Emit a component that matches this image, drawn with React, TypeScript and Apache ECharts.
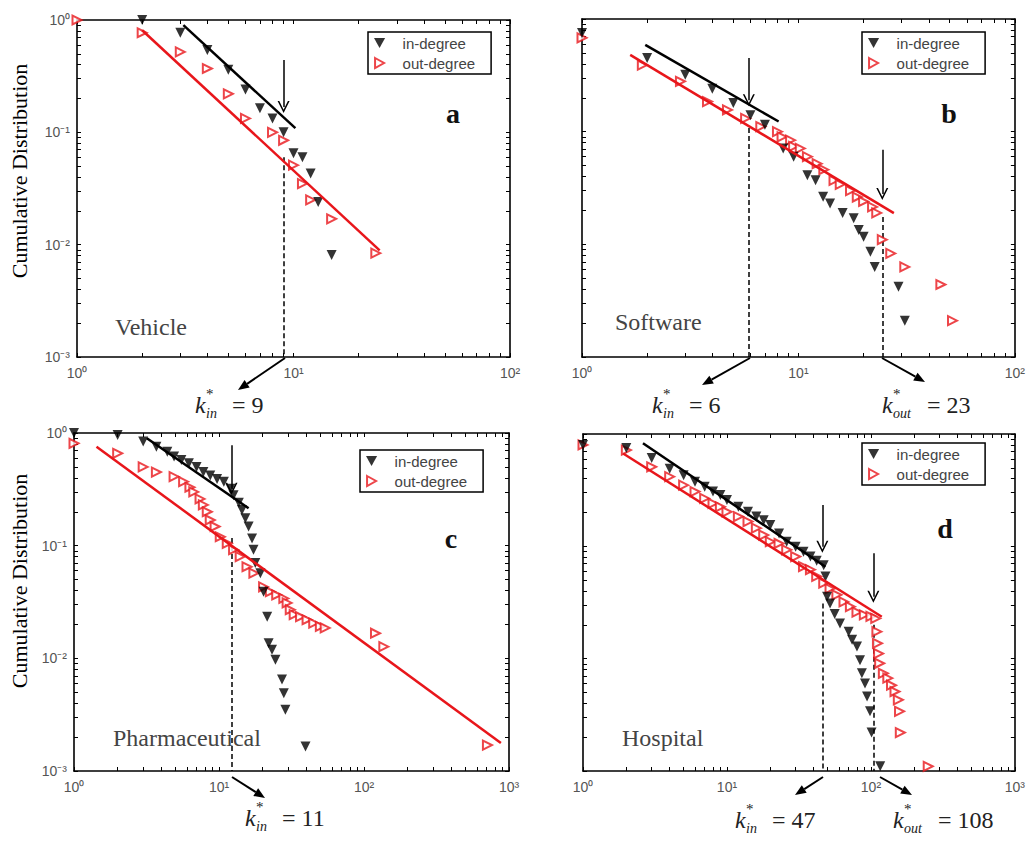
import React, { useEffect, useRef } from 'react';
import * as echarts from 'echarts';

// ---------- data (degree k, cumulative distribution P) ----------
// Panel a: Vehicle
const aInK = [2, 3, 4, 5, 6, 7, 8, 9, 10, 11, 12, 13, 15];
const aInP = [1.0, 0.77, 0.54, 0.36, 0.24, 0.164, 0.133, 0.1, 0.065, 0.06, 0.043, 0.024, 0.0081];
const aOutK = [1, 2, 3, 4, 5, 6, 8, 9, 10, 11, 12, 15, 24];
const aOutP = [1.0, 0.77, 0.52, 0.37, 0.22, 0.133, 0.1, 0.085, 0.051, 0.035, 0.025, 0.017, 0.0084];
const aFitInK = [3.1, 10.2];
const aFitInP = [0.9, 0.109];
const aFitOutK = [2.0, 25];
const aFitOutP = [0.81, 0.0089];
const aStarK = [9];
const aArrowTopP = [0.44];
const aArrowTipP = [0.168];
const aDashTopP = [0.06];

// Panel b: Software
const bInK = [1, 2, 3, 4, 5, 6, 7, 8.5, 9.5, 11, 12, 13, 14, 16, 18, 19, 20, 21.5, 22.5, 29, 31];
const bInP = [0.75, 0.45, 0.32, 0.24, 0.18, 0.14, 0.115, 0.071, 0.06, 0.041, 0.037, 0.0265, 0.023, 0.019, 0.017, 0.0134, 0.0117, 0.0086, 0.0063, 0.0042, 0.0021];
const bOutK = [1, 1.9, 2.85, 3.8, 4.7, 5.7, 6.7, 8, 8.4, 9.2, 9.5, 10.2, 11, 12.2, 13.1, 14.6, 15.6, 17.4, 18.7, 20, 22, 23, 24.4, 26.7, 31, 45.5, 51.5];
const bOutP = [0.68, 0.39, 0.28, 0.185, 0.156, 0.131, 0.111, 0.1, 0.09, 0.084, 0.074, 0.071, 0.06, 0.052, 0.046, 0.037, 0.034, 0.03, 0.0263, 0.024, 0.0215, 0.019, 0.011, 0.0083, 0.0063, 0.0044, 0.0021];
const bFitInK = [1.96, 8.1];
const bFitInP = [0.59, 0.123];
const bFitOutK = [1.67, 27.6];
const bFitOutP = [0.48, 0.0189];
const bStarK = [5.9, 24.4];
const bArrowTopP = [0.45, 0.069];
const bArrowTipP = [0.19, 0.028];
const bDashTopP = [0.108, 0.0175];

// Panel c: Pharmaceutical
const cInK = [1, 2, 3, 3.7, 4.4, 4.9, 5.5, 6.2, 7, 7.8, 8.7, 9.7, 10.8, 12, 12.6, 13.7, 14.4, 15.2, 16, 16.9, 17.3, 17.8, 19.3, 20.3, 21.5, 22, 23.2, 24.5, 27.2, 28, 28.7, 39.5];
const cInP = [1.0, 0.96, 0.84, 0.756, 0.68, 0.62, 0.576, 0.54, 0.5, 0.45, 0.42, 0.39, 0.37, 0.32, 0.28, 0.24, 0.207, 0.175, 0.148, 0.116, 0.092, 0.07, 0.057, 0.039, 0.0234, 0.0136, 0.0119, 0.0097, 0.0065, 0.0049, 0.0035, 0.00165];
const cOutK = [1, 2, 3, 3.7, 4.9, 5.7, 6.3, 6.7, 7.4, 7.8, 8.3, 8.7, 9.4, 10.2, 11.4, 12.6, 14, 15.6, 17.4, 20.3, 22.6, 25, 28, 29.5, 31, 33, 36.5, 40.5, 45, 50, 54, 120, 137, 710];
const cOutP = [0.81, 0.66, 0.5, 0.45, 0.41, 0.37, 0.33, 0.3, 0.26, 0.23, 0.2, 0.169, 0.148, 0.12, 0.105, 0.092, 0.08, 0.065, 0.057, 0.043, 0.039, 0.0365, 0.034, 0.031, 0.027, 0.0244, 0.0234, 0.022, 0.0205, 0.0192, 0.0186, 0.0167, 0.0127, 0.0017];
const cFitInK = [3.18, 16];
const cFitInP = [0.9, 0.215];
const cFitOutK = [1.43, 879];
const cFitOutP = [0.756, 0.00177];
const cStarK = [12.2];
const cArrowTopP = [0.78];
const cArrowTipP = [0.32];
const cDashTopP = [0.117];

// Panel d: Hospital
const dInK = [1, 2, 3, 4, 5, 6, 7, 8, 9, 10, 12, 14, 16, 18, 20, 23, 26, 30, 34, 38, 42, 47, 48.3, 49.6, 52, 56, 61, 70, 74, 80, 84, 86.5, 91, 94, 98.5, 101, 116];
const dInP = [0.8, 0.75, 0.61, 0.49, 0.43, 0.376, 0.34, 0.307, 0.286, 0.258, 0.225, 0.203, 0.184, 0.171, 0.155, 0.13, 0.11, 0.099, 0.0895, 0.081, 0.0744, 0.068, 0.054, 0.0356, 0.031, 0.025, 0.0206, 0.0174, 0.0147, 0.0128, 0.0097, 0.0074, 0.006, 0.0046, 0.0034, 0.0022, 0.0011];
const dOutK = [1, 2, 3, 4, 5, 6, 7, 8, 9, 10, 12, 14, 16, 18, 20, 23, 26, 30, 34, 38, 42, 47, 52, 58, 65, 72, 80, 90, 100, 108, 110, 111, 113, 115, 122, 131, 139, 147, 155, 158, 160, 250];
const dOutP = [0.8, 0.72, 0.51, 0.417, 0.35, 0.307, 0.267, 0.241, 0.225, 0.203, 0.184, 0.166, 0.145, 0.126, 0.11, 0.106, 0.093, 0.081, 0.066, 0.062, 0.054, 0.047, 0.042, 0.037, 0.032, 0.029, 0.026, 0.0245, 0.0238, 0.0228, 0.0174, 0.0137, 0.0111, 0.0091, 0.0074, 0.0067, 0.0058, 0.0051, 0.0043, 0.0034, 0.0022, 0.0011];
const dFitInK = [2.61, 48.3];
const dFitInP = [0.826, 0.0658];
const dFitOutK = [1.9, 119];
const dFitOutP = [0.67, 0.0236];
const dStarK = [46, 104];
const dArrowTopP = [0.233, 0.087];
const dArrowTipP = [0.099, 0.0356];
const dDashTopP = [0.031, 0.02];

// Axis ticks
const xDecades2 = [1, 10, 100];
const xDecades3 = [1, 10, 100, 1000];
const yDecades = [0.001, 0.01, 0.1, 1];
const Y_MIN = 0.001;

// Texts
const panelNames = ['Vehicle', 'Software', 'Pharmaceutical', 'Hospital'];
const panelLetters = ['a', 'b', 'c', 'd'];
const legendNames = ['in-degree', 'out-degree'];

const RED = '#e8161b';
const SERIF = '"Liberation Serif", "Times New Roman", serif';
const SANS = '"Liberation Sans", Arial, sans-serif';

const ICON_DOWN = 'path://M0,0 L10,0 L5,9 Z';
const ICON_RIGHT = 'path://M0,0 L9,5 L0,10 Z';

const SUP: Record<string, string> = { '0': '⁰', '1': '¹', '2': '²', '3': '³', '-': '⁻' };
const expLabel = (v: number) => {
  const e = Math.round(Math.log10(v));
  return '10' + String(e).split('').map((c) => SUP[c]).join('');
};
const minorOf = (decades: number[]) => {
  const out: number[] = [];
  for (let i = 0; i < decades.length - 1; i++) {
    for (let m = 1; m < 10; m++) out.push(+(decades[i] * m).toPrecision(6));
  }
  out.push(decades[decades.length - 1]);
  return out;
};
const zip = (k: number[], p: number[]) => k.map((v, i) => [v, p[i]]);

const panels = [
  { grid: { left: 77, top: 20, width: 433, height: 337 }, xDec: xDecades2, yLabels: true,
    inK: aInK, inP: aInP, outK: aOutK, outP: aOutP, fitIn: [aFitInK, aFitInP], fitOut: [aFitOutK, aFitOutP],
    starK: aStarK, arrTop: aArrowTopP, arrTip: aArrowTipP, dashTop: aDashTopP, legend: { left: 368, top: 32 } },
  { grid: { left: 582, top: 19, width: 433, height: 338 }, xDec: xDecades2, yLabels: false,
    inK: bInK, inP: bInP, outK: bOutK, outP: bOutP, fitIn: [bFitInK, bFitInP], fitOut: [bFitOutK, bFitOutP],
    starK: bStarK, arrTop: bArrowTopP, arrTip: bArrowTipP, dashTop: bDashTopP, legend: { left: 862, top: 32 } },
  { grid: { left: 74, top: 433, width: 435, height: 338 }, xDec: xDecades3, yLabels: true,
    inK: cInK, inP: cInP, outK: cOutK, outP: cOutP, fitIn: [cFitInK, cFitInP], fitOut: [cFitOutK, cFitOutP],
    starK: cStarK, arrTop: cArrowTopP, arrTip: cArrowTipP, dashTop: cDashTopP, legend: { left: 360, top: 450 } },
  { grid: { left: 583, top: 434, width: 434, height: 337 }, xDec: xDecades3, yLabels: false,
    inK: dInK, inP: dInP, outK: dOutK, outP: dOutP, fitIn: [dFitInK, dFitInP], fitOut: [dFitOutK, dFitOutP],
    starK: dStarK, arrTop: dArrowTopP, arrTip: dArrowTipP, dashTop: dDashTopP, legend: { left: 862, top: 443 } },
];

const CHEVRON = 'path://M0,12 L5,0 L10,12 L8.6,12 L5,3.2 L1.4,12 Z';

function axisCommon(position: string, decades: number[], showLabel: boolean, gridIndex: number, min: number, max: number, margin: number) {
  return {
    type: 'log', logBase: 10, gridIndex, min, max, position,
    axisLine: { show: true, onZero: false, lineStyle: { color: '#000', width: 1.6 } },
    axisTick: { show: true, inside: true, length: 4, customValues: minorOf(decades), lineStyle: { color: '#000', width: 1 } },
    minorTick: { show: false },
    splitLine: { show: false },
    axisLabel: {
      show: showLabel, customValues: decades, formatter: expLabel, margin,
      color: '#555', fontSize: 14, fontFamily: SANS,
    },
  };
}

function arrowGraphic(x1: number, y1: number, x2: number, y2: number) {
  const dx = x2 - x1, dy = y2 - y1;
  const L = Math.hypot(dx, dy);
  const ux = dx / L, uy = dy / L;
  const hl = 11, hw = 4.5;
  const bx = x2 - ux * hl, by = y2 - uy * hl;
  return [
    { type: 'line', shape: { x1, y1, x2: bx, y2: by }, style: { stroke: '#000', lineWidth: 2 } },
    { type: 'polygon', shape: { points: [[x2, y2], [bx - uy * hw, by + ux * hw], [bx + uy * hw, by - ux * hw]] }, style: { fill: '#000' } },
  ];
}

function kLabel(x: number, y: number, sub: string, val: string) {
  const eqX = sub === 'in' ? 37 : 45;
  return {
    type: 'group', x, y,
    children: [
      { type: 'text', x: 0, y: 0, style: { text: 'k', font: `italic 24px ${SERIF}`, fill: '#222', verticalAlign: 'middle', textVerticalAlign: 'middle' } },
      { type: 'text', x: 11, y: -11, style: { text: '*', font: `15px ${SERIF}`, fill: '#222', verticalAlign: 'middle', textVerticalAlign: 'middle' } },
      { type: 'text', x: 11, y: 8, style: { text: sub, font: `italic 14px ${SERIF}`, fill: '#222', verticalAlign: 'middle', textVerticalAlign: 'middle' } },
      { type: 'text', x: eqX, y: 0, style: { text: '= ' + val, font: `24px ${SERIF}`, fill: '#222', verticalAlign: 'middle', textVerticalAlign: 'middle' } },
    ],
  };
}

function buildOption() {
  const grid: any[] = [];
  const xAxis: any[] = [];
  const yAxis: any[] = [];
  const series: any[] = [];
  const legend: any[] = [];

  panels.forEach((p, g) => {
    grid.push({ ...p.grid, containLabel: false });
    const xMax = p.xDec[p.xDec.length - 1];
    xAxis.push(axisCommon('bottom', p.xDec, true, g, 1, xMax, 9));
    xAxis.push(axisCommon('top', p.xDec, false, g, 1, xMax, 9));
    yAxis.push(axisCommon('left', yDecades, p.yLabels, g, Y_MIN, 1, 7));
    yAxis.push(axisCommon('right', yDecades, false, g, Y_MIN, 1, 7));
    const xi = 2 * g, yi = 2 * g;

    series.push({
      name: 'out-degree', type: 'scatter', xAxisIndex: xi, yAxisIndex: yi, clip: false,
      data: zip(p.outK, p.outP), symbol: 'triangle', symbolRotate: -90, symbolSize: 9,
      itemStyle: { color: '#fff', borderColor: RED, borderWidth: 2 }, z: 3,
    });
    series.push({
      name: 'in-degree', type: 'scatter', xAxisIndex: xi, yAxisIndex: yi, clip: false,
      data: zip(p.inK, p.inP), symbol: 'triangle', symbolRotate: 180, symbolSize: 10,
      itemStyle: { color: '#000' }, z: 4,
    });
    series.push({
      name: 'in-degree fit', type: 'line', xAxisIndex: xi, yAxisIndex: yi, silent: true,
      data: zip(p.fitIn[0], p.fitIn[1]), symbol: 'none', lineStyle: { color: '#000', width: 2.5 }, z: 5,
    });
    series.push({
      name: 'out-degree fit', type: 'line', xAxisIndex: xi, yAxisIndex: yi, silent: true,
      data: zip(p.fitOut[0], p.fitOut[1]), symbol: 'none', lineStyle: { color: RED, width: 2.5 }, z: 5,
    });
    series.push({
      name: 'k* arrows', type: 'lines', coordinateSystem: 'cartesian2d', xAxisIndex: xi, yAxisIndex: yi,
      silent: true, clip: false,
      data: p.starK.map((k, i) => ({ coords: [[k, p.arrTop[i]], [k, p.arrTip[i]]] })),
      symbol: ['none', CHEVRON], symbolSize: [1, 12],
      lineStyle: { color: '#000', width: 1.5, opacity: 1, curveness: 0 }, z: 6,
    });
    series.push({
      name: 'k* dashed', type: 'lines', coordinateSystem: 'cartesian2d', xAxisIndex: xi, yAxisIndex: yi,
      silent: true, clip: false,
      data: p.starK.map((k, i) => ({ coords: [[k, p.dashTop[i]], [k, Y_MIN]] })),
      lineStyle: { color: '#000', width: 1.5, type: [5, 3], opacity: 1, curveness: 0 }, z: 2,
    });

    legend.push({
      data: [
        { name: legendNames[0], icon: ICON_DOWN, itemStyle: { color: '#000', borderWidth: 0 } },
        { name: legendNames[1], icon: ICON_RIGHT, itemStyle: { color: '#fff', borderColor: RED, borderWidth: 2 } },
      ],
      orient: 'vertical', left: p.legend.left, top: p.legend.top,
      padding: [3, 16, 3, 6], itemGap: 4, itemWidth: 36, itemHeight: 10, symbolKeepAspect: true,
      borderColor: '#000', borderWidth: 1.5, backgroundColor: '#fff', selectedMode: false,
      textStyle: { fontSize: 15, fontFamily: SANS, color: '#444', lineHeight: 16 },
    });
  });

  const graphic: any[] = [];
  // y axis titles
  [171, 581].forEach((cy) => {
    graphic.push({
      type: 'text', x: 19, y: cy, rotation: Math.PI / 2,
      style: { text: 'Cumulative Distribution', font: `22px ${SERIF}`, fill: '#000', align: 'center', verticalAlign: 'middle', textAlign: 'center', textVerticalAlign: 'middle' },
    });
  });
  // panel names
  const namePos = [[115, 327], [615, 322], [113, 738], [622, 738]];
  panelNames.forEach((n, i) => {
    graphic.push({
      type: 'text', x: namePos[i][0], y: namePos[i][1],
      style: { text: n, font: `24px ${SERIF}`, fill: '#444', verticalAlign: 'middle', textVerticalAlign: 'middle' },
    });
  });
  // panel letters
  const letterPos = [[453, 113], [949, 113], [451, 538], [945, 528]];
  panelLetters.forEach((l, i) => {
    graphic.push({
      type: 'text', x: letterPos[i][0], y: letterPos[i][1],
      style: { text: l, font: `bold 28px ${SERIF}`, fill: '#111', align: 'center', verticalAlign: 'middle', textAlign: 'center', textVerticalAlign: 'middle' },
    });
  });
  // arrows below axes
  graphic.push(...arrowGraphic(285, 358, 238, 390));
  graphic.push(...arrowGraphic(750, 358, 702, 385));
  graphic.push(...arrowGraphic(882, 358, 925, 382));
  graphic.push(...arrowGraphic(232, 777, 265, 798));
  graphic.push(...arrowGraphic(823, 777, 795, 795));
  graphic.push(...arrowGraphic(880, 777, 912, 795));
  // k* labels
  graphic.push(kLabel(195, 405, 'in', '9'));
  graphic.push(kLabel(652, 405, 'in', '6'));
  graphic.push(kLabel(882, 405, 'out', '23'));
  graphic.push(kLabel(245, 818, 'in', '11'));
  graphic.push(kLabel(735, 820, 'in', '47'));
  graphic.push(kLabel(893, 820, 'out', '108'));

  return {
    animation: false,
    backgroundColor: '#fff',
    grid, xAxis, yAxis, series, legend, graphic,
  };
}

export default function App() {
  const ref = useRef<HTMLDivElement>(null);
  useEffect(() => {
    if (!ref.current) return;
    const chart = echarts.init(ref.current, undefined, { renderer: 'svg' });
    chart.setOption(buildOption() as any);
    return () => chart.dispose();
  }, []);
  return <div ref={ref} style={{ position: 'absolute', left: 0, top: 0, width: 1028, height: 842 }} />;
}
